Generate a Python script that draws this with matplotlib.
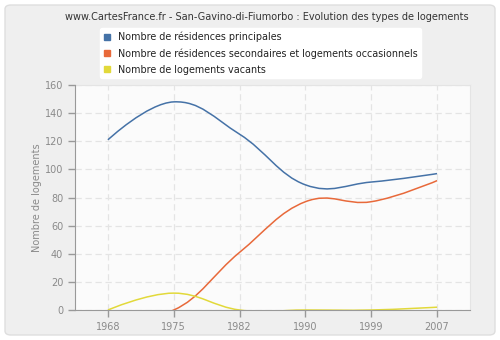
import numpy as np
import matplotlib
matplotlib.use("Agg")
import matplotlib.pyplot as plt
from matplotlib.path import Path
from matplotlib.patches import PathPatch, FancyBboxPatch, Rectangle
from matplotlib.lines import Line2D

years = ["1968", "1975", "1982", "1990", "1999", "2007"]
principales = [121, 148, 125, 89, 91, 97]
secondaires = [0, 0, 41, 77, 77, 92]
vacants = [0, 12, 0, 0, 0, 2]

labels = [
    "Nombre de résidences principales",
    "Nombre de résidences secondaires et logements occasionnels",
    "Nombre de logements vacants",
]
colors = ["#4572a7", "#e8693a", "#e2d93a"]

plt.rcParams["hatch.color"] = "#e9e9e9"
plt.rcParams["hatch.linewidth"] = 0.7


def splinePath(xs, ys, smoothing=1.5):
    # cubic bezier through every point, control points from the neighbours
    n = len(xs)
    left = [None] * n
    right = [None] * n
    denom = smoothing + 1
    for i in range(1, n - 1):
        lx = (smoothing * xs[i] + xs[i - 1]) / denom
        ly = (smoothing * ys[i] + ys[i - 1]) / denom
        rx = (smoothing * xs[i] + xs[i + 1]) / denom
        ry = (smoothing * ys[i] + ys[i + 1]) / denom
        corr = (ry - ly) * (rx - xs[i]) / (rx - lx) + ys[i] - ry
        left[i] = (lx, ly + corr)
        right[i] = (rx, ry + corr)
    verts = [(xs[0], ys[0])]
    codes = [Path.MOVETO]
    for i in range(1, n):
        c1 = right[i - 1] or (xs[i - 1], ys[i - 1])
        c2 = left[i] or (xs[i], ys[i])
        verts += [c1, c2, (xs[i], ys[i])]
        codes += [Path.CURVE4] * 3
    return Path(verts, codes)


fig = plt.figure(figsize=(5, 3.4), dpi=100)
fig.patch.set_facecolor("white")

# rounded grey panel behind everything
panel = FancyBboxPatch((5 / 500, 5 / 340), 490 / 500, 330 / 340,
                       boxstyle="round,pad=0,rounding_size=0.012",
                       transform=fig.transFigure, facecolor="#efefef",
                       edgecolor="#dedede", linewidth=1, zorder=-10)
fig.patches.append(panel)

ax = fig.add_axes([75 / 500, 30 / 340, 395 / 500, 225 / 340])
ax.set_facecolor("#fbfbfb")
ax.add_patch(Rectangle((0, 0), 1, 1, transform=ax.transAxes, facecolor="none",
                       edgecolor="none", hatch="/////", zorder=0))

x = np.arange(len(years))
for vals, col in zip([principales, secondaires, vacants], colors):
    ax.add_patch(PathPatch(splinePath(x, vals), facecolor="none",
                           edgecolor=col, linewidth=1.1, zorder=2))

ax.set_xlim(-0.5, len(years) - 0.5)
ax.set_ylim(0, 160)
ax.set_xticks(x)
ax.set_xticklabels(years)
ax.set_yticks(np.arange(0, 161, 20))
ax.grid(True, color="#e4e4e4", linestyle=(0, (5, 3)), linewidth=0.9)
ax.set_axisbelow(True)

ax.tick_params(colors="#999999", labelcolor="#8a8a8a", labelsize=7,
               length=5, width=1)
for side in ["left", "bottom"]:
    ax.spines[side].set_color("#999999")
    ax.spines[side].set_zorder(3)
for side in ["top", "right"]:
    ax.spines[side].set_color("#e4e4e4")
ax.set_ylabel("Nombre de logements", color="#8a8a8a", fontsize=7, labelpad=2)

fig.text(267 / 500, 1 - 17 / 340,
         "www.CartesFrance.fr - San-Gavino-di-Fiumorbo : Evolution des types de logements",
         ha="center", va="center", fontsize=7, color="#333333")

handles = [Line2D([], [], marker="s", linestyle="none", markersize=4.5,
                  markerfacecolor=c, markeredgecolor=c) for c in colors]
leg = fig.legend(handles, labels, loc="upper left",
                 bbox_to_anchor=(100 / 500, 1 - 28 / 340), fontsize=6.9,
                 frameon=True, fancybox=True, handlelength=0.8,
                 handletextpad=0.7, labelspacing=0.62, borderpad=0.38,
                 borderaxespad=0)
leg.get_frame().set_facecolor("white")
leg.get_frame().set_edgecolor("white")
leg.get_frame().set_alpha(1)
for t in leg.get_texts():
    t.set_color("#222222")

fig.savefig("out.png", dpi=100, facecolor=fig.get_facecolor())
